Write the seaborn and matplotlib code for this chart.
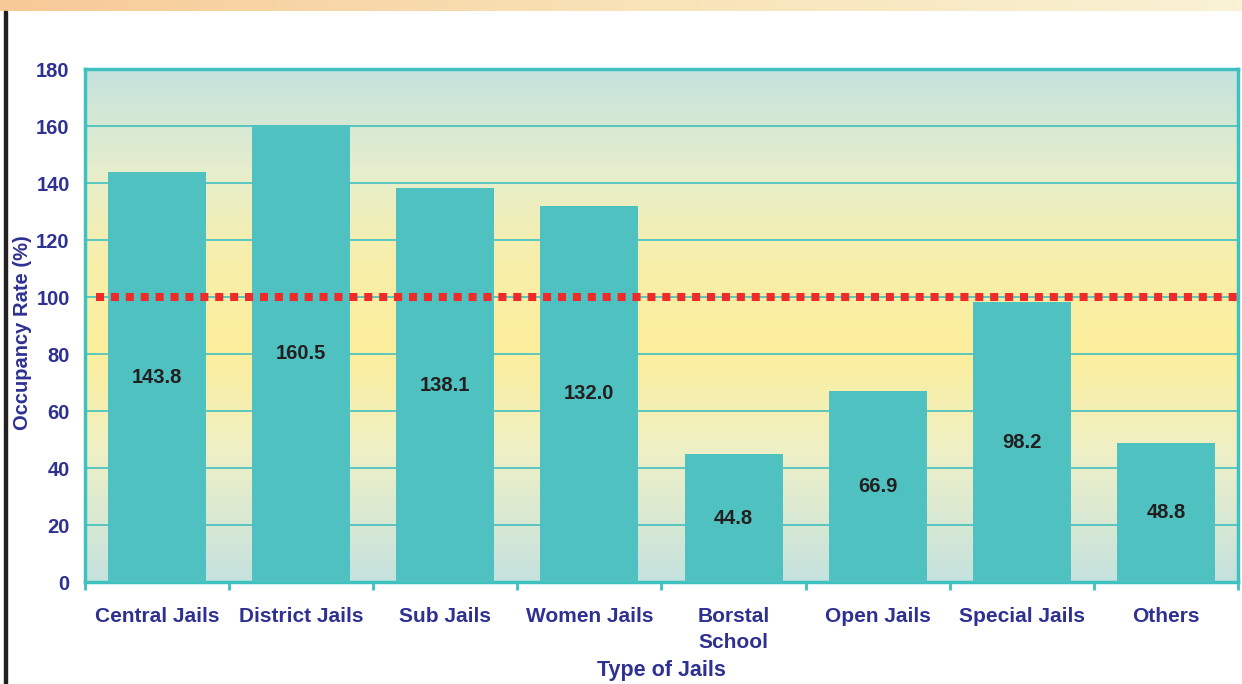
import numpy as np
import pandas as pd
import seaborn as sns
import matplotlib
matplotlib.use('Agg')
from matplotlib import pyplot as plt
from matplotlib.colors import LinearSegmentedColormap
from matplotlib.patches import Rectangle

# Data
jail_types = ['Central Jails', 'District Jails', 'Sub Jails', 'Women Jails',
              'Borstal\nSchool', 'Open Jails', 'Special Jails', 'Others']
occupancy = [143.8, 160.5, 138.1, 132.0, 44.8, 66.9, 98.2, 48.8]
y_ticks = [0, 20, 40, 60, 80, 100, 120, 140, 160, 180]
capacity_line = 100

navy = '#2e3192'
teal = '#3fc1c0'
bar_color = '#4fc1c1'

sns.set_theme(style='white')
plt.rcParams['font.family'] = ['Liberation Sans', 'DejaVu Sans']

df = pd.DataFrame({'type': jail_types, 'rate': occupancy})

fig = plt.figure(figsize=(12.42, 6.84), dpi=100)
ax = fig.add_axes([0.0684, 0.149, 0.9284, 0.750])

# background gradient (vertical)
bg = LinearSegmentedColormap.from_list('bg', [
    (0.0, '#c5e2de'), (0.25, '#eef0c6'), (0.45, '#fcee9c'),
    (0.62, '#f8efaa'), (0.8, '#e6eecc'), (1.0, '#c5e2de')])
grad = np.linspace(0, 1, 256).reshape(-1, 1)
ax.imshow(grad, aspect='auto', cmap=bg, extent=[0, 1, 0, 1],
          transform=ax.transAxes, origin='lower', zorder=0)

sns.barplot(data=df, x='type', y='rate', color=bar_color, saturation=1,
            width=0.68, ax=ax, zorder=3, edgecolor='none', linewidth=0)

ax.set_ylim(0, 180)
ax.set_xlim(-0.5, len(jail_types) - 0.5)
ax.set_yticks(y_ticks)
ax.yaxis.grid(True, color=teal, linewidth=1.2, zorder=1)
ax.set_axisbelow(True)

for sp in ax.spines.values():
    sp.set_color(teal)
    sp.set_linewidth(2.5)

# value labels at mid-height
for i, v in enumerate(occupancy):
    ax.text(i, v / 2, f'{v:.1f}', ha='center', va='center',
            fontsize=14.5, fontweight='bold', color='#231f20', zorder=5)

# capacity line
ax.plot([0.01, 1.005], [capacity_line, capacity_line], transform=ax.get_yaxis_transform(),
        color='#ee2a2a', linewidth=5.8, dashes=(1.0, 0.85), clip_on=False, zorder=6,
        solid_capstyle='butt', dash_capstyle='butt')

ax.tick_params(axis='x', which='major', length=0, pad=18, labelsize=15, labelcolor=navy)
ax.tick_params(axis='y', which='major', length=6, width=2, color=teal, pad=5,
               labelsize=14.5, labelcolor=navy)
for lbl in ax.get_xticklabels() + ax.get_yticklabels():
    lbl.set_fontweight('bold')
for lbl in ax.get_xticklabels():
    lbl.set_linespacing(1.45)
ax.set_xticks(np.arange(-0.5, len(jail_types), 1), minor=True)
ax.tick_params(axis='x', which='minor', length=6, width=2, color=teal, bottom=True)

ax.set_xlabel('Type of Jails', fontsize=15.5, fontweight='bold', color=navy, labelpad=6)
ax.set_ylabel('Occupancy Rate (%)', fontsize=14.5, fontweight='bold', color=navy)
ax.yaxis.set_label_coords(-0.046, 0.487)

# top banner and left border
banner = LinearSegmentedColormap.from_list('banner', ['#f7c997', '#f8e2b6', '#f9f2d4'])
bax = fig.add_axes([0, 1 - 11 / 684, 1, 11 / 684])
bax.imshow(np.linspace(0, 1, 256).reshape(1, -1), aspect='auto', cmap=banner)
bax.axis('off')
fig.add_artist(Rectangle((4 / 1242, 0), 2.5 / 1242, 1 - 11 / 684, transform=fig.transFigure,
                         color='#231f20'))

fig.savefig('out.png', dpi=100)
